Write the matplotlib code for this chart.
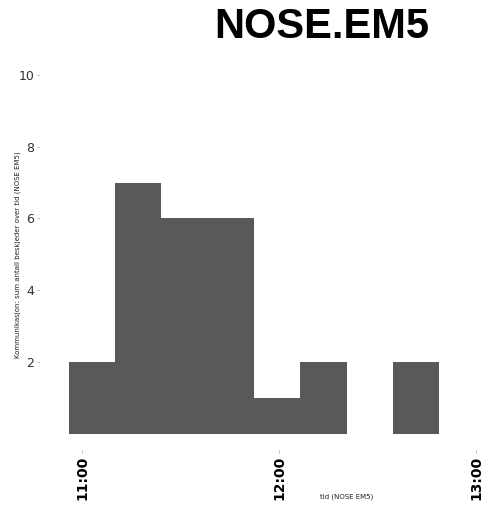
import datetime as dt
import matplotlib
matplotlib.use('Agg')
import matplotlib.pyplot as plt
import matplotlib.dates as mdates

# bin starts (14 min bins) and message counts
bin_starts = ["10:56", "11:10", "11:24", "11:38", "11:52", "12:06", "12:20", "12:34"]
counts = [2, 7, 6, 6, 1, 2, 0, 2]
bin_minutes = 14.1
tick_labels = ["11:00", "12:00", "13:00"]
y_ticks = [2, 4, 6, 8, 10]


def to_dt(s):
    h, m = s.split(":")
    return dt.datetime(2020, 1, 1, int(h), int(m))


starts = [to_dt(s) for s in bin_starts]

fig = plt.figure(figsize=(4.87, 5.07), dpi=100)
ax = fig.add_axes([40 / 487, 57 / 507, 442 / 487, 375 / 507])

# skip empty bins so no zero-height sliver is drawn
xs = [mdates.date2num(s) + i * 0.1 / 1440 for i, s in enumerate(starts)]
ax.bar([x for x, c in zip(xs, counts) if c > 0], [c for c in counts if c > 0],
       width=bin_minutes / 1440, align='edge', color='#595959', linewidth=0)

ax.set_xlim(to_dt("10:47") + dt.timedelta(seconds=12.6),
            to_dt("13:01") + dt.timedelta(seconds=50))
ax.set_ylim(-0.457, 10)

ax.set_xticks([to_dt(t) for t in tick_labels])
ax.set_xticklabels(tick_labels, rotation=90, fontweight='bold', fontsize=10)
ax.set_yticks(y_ticks)
ax.set_yticklabels([str(v) for v in y_ticks], fontsize=9, color='#333333')
ax.tick_params(axis='both', length=2, width=0.5, color='#aaaaaa', pad=2)

for sp in ax.spines.values():
    sp.set_visible(False)

fig.text(322 / 487, 1 - 27 / 507, "NOSE.EM5", fontsize=30, fontweight='bold',
         ha='center', va='center', family='Liberation Sans')
fig.text(18 / 487, 1 - 255 / 507,
         "Kommunikasjon: sum antall beskjeder over tid (NOSE EM5)",
         fontsize=5, rotation=90, ha='center', va='center', color='#222222')
fig.text(347 / 487, 1 - 497 / 507, "tid (NOSE EM5)", fontsize=5,
         ha='center', va='center', color='#222222')

fig.savefig("out.png", dpi=100)
